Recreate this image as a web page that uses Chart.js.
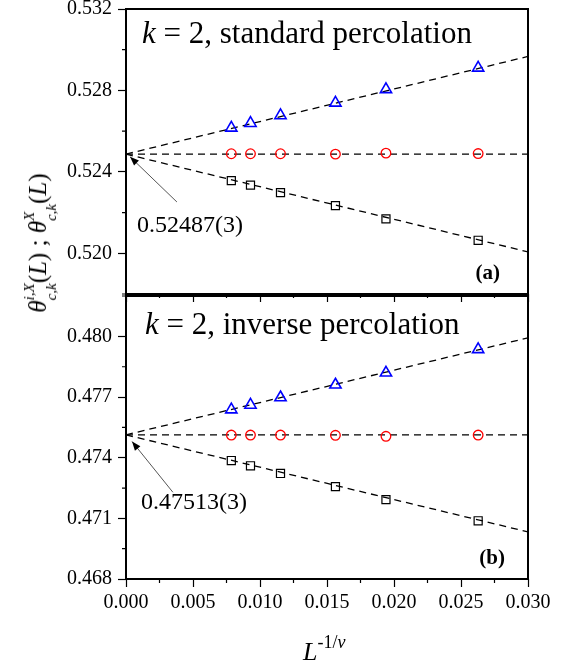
<!DOCTYPE html>
<html>
<head>
<meta charset="utf-8">
<script src="https://cdn.jsdelivr.net/npm/chart.js@4.4.0/dist/chart.umd.min.js"></script>
<style>
  body { margin: 0; background: #fff; }
  #wrap { position: relative; width: 571px; height: 666px; overflow: hidden; background: #fff; }
  #wrap canvas { position: absolute; left: 0; }
  #chartTop { top: -10px; }
  #chartBot { top: 280px; }
  #ytitle {
    position: absolute; left: 40px; top: 243px;
    transform: translate(-50%, -50%) rotate(-90deg);
    font-family: "Liberation Serif", serif; font-size: 25px; white-space: nowrap; color: #000;
  }
  #ytitle .ss { display: inline-block; vertical-align: -10px; font-size: 15px; line-height: 22px; font-style: italic; }
  #ytitle .ss span { display: block; }
</style>
</head>
<body>
<div id="wrap">
  <canvas id="chartTop" width="571" height="320"></canvas>
  <canvas id="chartBot" width="571" height="386"></canvas>
  <div id="ytitle"><i>θ</i><span class="ss"><span>i,X</span><span>c,k</span></span>(<i>L</i>) ; <i>θ</i><span class="ss"><span>X</span><span>c,k</span></span>(<i>L</i>)</div>
</div>
<script>
// x = L^(-1/nu), L = 640, 512, 384, 256, 192, 128
const xVals = [0.00786, 0.00929, 0.01153, 0.01563, 0.01940, 0.02628];

// (a) standard percolation
const stdTriangle = [0.52616, 0.52639, 0.52677, 0.52739, 0.52805, 0.52911];
const stdCircle   = [0.52489, 0.52489, 0.52489, 0.52487, 0.52492, 0.52490];
const stdSquare   = [0.52357, 0.52335, 0.52298, 0.52234, 0.52169, 0.52064];

// (b) inverse percolation
const invTriangle = [0.47638, 0.47661, 0.47698, 0.47761, 0.47820, 0.47936];
const invCircle   = [0.47512, 0.47512, 0.47512, 0.47511, 0.47506, 0.47512];
const invSquare   = [0.47386, 0.47360, 0.47322, 0.47257, 0.47193, 0.47088];

// linear fits, evaluated at x = 0 and x = 0.03
const fitX = [0, 0.03];
const stdFitUp = [0.52487, 0.52967];
const stdFitMid = [0.52487, 0.52487];
const stdFitLow = [0.52487, 0.52007];
const invFitUp = [0.47513, 0.47993];
const invFitMid = [0.47513, 0.47513];
const invFitLow = [0.47513, 0.47033];

// arrow tail (x, y) -> head (x, y), in data units
const stdArrow = [0.0038, 0.52252, 0.0003, 0.52474];
const invArrow = [0.0035, 0.47229, 0.00045, 0.47480];

const xTicks = ['0.000', '0.005', '0.010', '0.015', '0.020', '0.025', '0.030'];

const SERIF = '"Liberation Serif", "Times New Roman", serif';

function isMajor(v, step) {
    const r = v / step;
    return Math.abs(r - Math.round(r)) < 1e-6;
}

function pts(xs, ys) {
    return xs.map((x, i) => ({ x: x, y: ys[i] }));
}

function drawRuns(ctx, x, y, runs) {
    let cx = x;
    runs.forEach(r => {
        ctx.font = r.font;
        ctx.fillText(r.t, cx, y - (r.rise || 0));
        cx += ctx.measureText(r.t).width;
    });
    return cx;
}

const panelDecor = {
    id: 'panelDecor',
    afterDraw(chart, args, o) {
        const { ctx, chartArea: a, scales } = chart;
        const xs = scales.x, ys = scales.y;
        ctx.save();
        ctx.strokeStyle = '#000';
        ctx.fillStyle = '#000';

        // frame (2px on whole pixels so it stays crisp)
        const L = Math.round(a.left), T = Math.round(a.top);
        const R = Math.round(a.right), B = Math.round(a.bottom);
        ctx.lineWidth = 2;
        ctx.strokeRect(L, T, R - L, B - T);

        // minor ticks
        ctx.lineWidth = 1.2;
        ctx.beginPath();
        ys.ticks.forEach(t => {
            if (!isMajor(t.value, o.yMajor)) {
                const py = ys.getPixelForValue(t.value);
                ctx.moveTo(a.left - 4, py); ctx.lineTo(a.left, py);
            }
        });
        xs.ticks.forEach(t => {
            if (!isMajor(t.value, 0.005)) {
                const px = xs.getPixelForValue(t.value);
                ctx.moveTo(px, a.bottom); ctx.lineTo(px, a.bottom + 4);
            }
        });
        ctx.stroke();

        // panel title
        ctx.textBaseline = 'alphabetic';
        ctx.textAlign = 'left';
        drawRuns(ctx, a.left + o.titleDx, a.top + o.titleDy, [
            { t: 'k', font: 'italic 31px ' + SERIF },
            { t: ' = 2, ' + o.title, font: '31px ' + SERIF }
        ]);

        // panel letter
        ctx.textAlign = 'right';
        ctx.font = 'bold 21px ' + SERIF;
        ctx.fillText(o.letter, a.right - o.letterDx, a.bottom - 15);

        // extrapolated value + arrow
        ctx.textAlign = 'left';
        ctx.font = '24px ' + SERIF;
        const ar = o.arrow;
        const x0 = xs.getPixelForValue(ar[0]), y0 = ys.getPixelForValue(ar[1]);
        const x1 = xs.getPixelForValue(ar[2]), y1 = ys.getPixelForValue(ar[3]);
        ctx.fillText(o.value, a.left + o.valueDx, y0 + o.valueDy);
        ctx.strokeStyle = '#555';
        ctx.lineWidth = 1;
        ctx.beginPath();
        ctx.moveTo(x0, y0); ctx.lineTo(x1, y1);
        ctx.stroke();
        const ang = Math.atan2(y1 - y0, x1 - x0);
        ctx.beginPath();
        ctx.moveTo(x1, y1);
        ctx.lineTo(x1 - 9 * Math.cos(ang) + 3.5 * Math.sin(ang), y1 - 9 * Math.sin(ang) - 3.5 * Math.cos(ang));
        ctx.lineTo(x1 - 9 * Math.cos(ang) - 3.5 * Math.sin(ang), y1 - 9 * Math.sin(ang) + 3.5 * Math.cos(ang));
        ctx.closePath();
        ctx.fill();

        // x axis title on the bottom panel
        if (o.xTitle) {
            const cx = (a.left + a.right) / 2 - 24;
            ctx.fillStyle = '#000';
            drawRuns(ctx, cx, a.bottom + 81, [
                { t: 'L', font: 'italic 26px ' + SERIF },
                { t: '-1/', font: '18px ' + SERIF, rise: 12 },
                { t: 'ν', font: 'italic 18px ' + SERIF, rise: 12 }
            ]);
        }
        ctx.restore();
    }
};

function makePanel(canvasId, cfg) {
    const markers = [
        { data: pts(xVals, cfg.tri), pointStyle: 'triangle', pointRadius: 6.5, borderColor: '#0000ff', pointBorderWidth: 1.6 },
        { data: pts(xVals, cfg.circ), pointStyle: 'circle', pointRadius: 4.8, borderColor: '#ff0000', pointBorderWidth: 1.3 },
        { data: pts(xVals, cfg.sq), pointStyle: 'rect', pointRadius: 5.7, borderColor: '#000000', pointBorderWidth: 1.2 }
    ].map(d => Object.assign(d, { showLine: false, backgroundColor: 'rgba(0,0,0,0)', pointBackgroundColor: 'rgba(0,0,0,0)', pointBorderColor: d.borderColor }));

    const fits = cfg.fits.map(f => ({
        data: pts(fitX, f),
        showLine: true,
        borderColor: '#000',
        borderWidth: 1.3,
        borderDash: [7, 5],
        pointRadius: 0,
        fill: false
    }));

    return new Chart(document.getElementById(canvasId), {
        type: 'scatter',
        data: { datasets: markers.concat(fits) },
        plugins: [panelDecor],
        options: {
            responsive: false,
            animation: false,
            devicePixelRatio: 1,
            layout: { padding: { top: cfg.padTop, right: 43, left: 0, bottom: 0 } },
            plugins: {
                legend: { display: false },
                tooltip: { enabled: false },
                panelDecor: cfg.decor
            },
            scales: {
                x: {
                    type: 'linear',
                    min: 0, max: 0.03,
                    grid: {
                        drawOnChartArea: false, drawTicks: true, tickLength: 8, tickWidth: 1.2,
                        tickColor: c => isMajor(c.tick.value, 0.005) ? '#000' : 'rgba(0,0,0,0)'
                    },
                    border: { display: false },
                    ticks: {
                        stepSize: 0.0025, maxTicksLimit: 20, autoSkip: false, maxRotation: 0, padding: 4,
                        color: '#000', font: { family: SERIF, size: 20 },
                        callback: v => (cfg.xLabels && isMajor(v, 0.005)) ? xTicks[Math.round(v / 0.005)] : ''
                    },
                    afterFit: s => { s.height = cfg.xHeight; }
                },
                y: {
                    type: 'linear',
                    min: cfg.yMin, max: cfg.yMax,
                    grid: {
                        drawOnChartArea: false, drawTicks: true, tickLength: 8, tickWidth: 1.2,
                        tickColor: c => isMajor(c.tick.value, cfg.yMajor) ? '#000' : 'rgba(0,0,0,0)'
                    },
                    border: { display: false },
                    ticks: {
                        stepSize: cfg.yStep, maxTicksLimit: 20, autoSkip: false, padding: 6,
                        color: '#000', font: { family: SERIF, size: 20, lineHeight: 1 },
                        callback: v => isMajor(v, cfg.yMajor) ? v.toFixed(3) : ''
                    },
                    afterFit: s => { s.width = 126; }
                }
            }
        }
    });
}

makePanel('chartTop', {
    tri: stdTriangle, circ: stdCircle, sq: stdSquare,
    fits: [stdFitUp, stdFitMid, stdFitLow],
    yMin: 0.518, yMax: 0.532, yStep: 0.002, yMajor: 0.004,
    padTop: 19, xHeight: 16, xLabels: false,
    decor: {
        yMajor: 0.004, title: 'standard percolation', titleDx: 16, titleDy: 34,
        letter: '(a)', letterDx: 28,
        value: '0.52487(3)', valueDx: 11, valueDy: 30, arrow: stdArrow
    }
});

makePanel('chartBot', {
    tri: invTriangle, circ: invCircle, sq: invSquare,
    fits: [invFitUp, invFitMid, invFitLow],
    yMin: 0.468, yMax: 0.482, yStep: 0.0015, yMajor: 0.003,
    padTop: 13, xHeight: 87, xLabels: true,
    decor: {
        yMajor: 0.003, title: 'inverse percolation', titleDx: 19, titleDy: 38,
        letter: '(b)', letterDx: 23,
        value: '0.47513(3)', valueDx: 15, valueDy: 17, arrow: invArrow, xTitle: true
    }
});
</script>
</body>
</html>
